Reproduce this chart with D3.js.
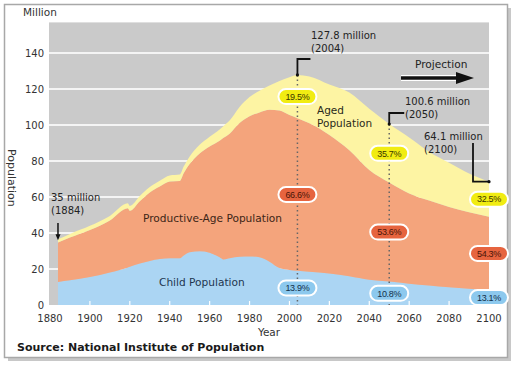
<!DOCTYPE html>
<html>
<head>
<meta charset="utf-8">
<script src="https://cdn.jsdelivr.net/npm/d3@7"></script>
<style>
  body { margin: 0; background: #fff; }
  text { font-family: "DejaVu Sans", sans-serif; }
</style>
</head>
<body>
<svg></svg>
<script>
let width = 520, height = 373;

let svg = d3.select("svg")
    .attr("width", width)
    .attr("height", height);

// Population of Japan (million)
let years      = [1884, 1890, 1900, 1910, 1919, 1920, 1925, 1930, 1935, 1940, 1945, 1947, 1950, 1955, 1960, 1965, 1967, 1970, 1975, 1980, 1985, 1990, 1995, 2000, 2004, 2010, 2020, 2030, 2040, 2050, 2060, 2070, 2080, 2090, 2100];
let child      = [12.8, 13.7, 15.5, 18.0, 20.8, 21.2, 23.0, 24.5, 25.5, 26.0, 26.0, 27.5, 29.3, 29.8, 29.0, 26.5, 25.3, 26.0, 26.8, 27.0, 26.5, 24.0, 20.5, 19.5, 19.0, 18.5, 17.5, 16.0, 14.0, 13.0, 11.8, 10.8, 9.8, 9.0, 8.3];
let productive = [21.9, 23.8, 26.2, 29.0, 33.0, 31.1, 34.6, 38.0, 40.3, 42.6, 42.9, 45.7, 49.0, 54.4, 59.1, 64.8, 67.6, 69.2, 74.3, 77.9, 80.5, 84.5, 87.5, 86.0, 84.8, 82.5, 77.0, 70.0, 61.0, 55.0, 50.2, 47.2, 44.7, 42.5, 40.7];
let aged       = [1.8, 2.0, 2.3, 2.5, 2.7, 2.7, 2.9, 3.0, 3.2, 3.4, 3.6, 3.8, 4.2, 4.8, 5.4, 6.2, 6.6, 7.3, 8.9, 10.6, 12.0, 13.5, 16.5, 21.0, 24.0, 26.0, 28.0, 32.0, 34.0, 32.5, 31.0, 27.0, 24.5, 21.5, 19.5];

// marked years and shares
let markYears = [2004, 2050, 2100];
let markTotal = ["127.8 million", "100.6 million", "64.1 million"];
let agedPct   = ["19.5%", "35.7%", "32.5%"];
let prodPct   = ["66.6%", "53.6%", "54.3%"];
let childPct  = ["13.9%", "10.8%", "13.1%"];

let xTicks = d3.range(1880, 2101, 20);
let yTicks = d3.range(0, 141, 20);

let x = d3.scaleLinear().domain([1880, 2100]).range([50, 489]);
let y = d3.scaleLinear().domain([0, 140]).range([305, 53]);

// frame with shadow
svg.append("rect")
    .attr("x", 8).attr("y", 8).attr("width", 503).attr("height", 353)
    .attr("fill", "#c8c8c8");
svg.append("rect")
    .attr("x", 4.5).attr("y", 4.5).attr("width", 503).attr("height", 353)
    .attr("fill", "#fff").attr("stroke", "#a8a8a8").attr("stroke-width", 1.5);

// gray plot background
svg.append("rect")
    .attr("x", x(1880) - 1).attr("y", y(157))
    .attr("width", x(2100) - x(1880) + 1).attr("height", y(0) - y(157))
    .attr("fill", "#cacaca");

// gridlines
svg.append("g")
    .selectAll("line")
    .data(yTicks.slice(1))
    .enter()
    .append("line")
    .attr("x1", x(1880) - 1).attr("x2", x(2100))
    .attr("y1", d => y(d)).attr("y2", d => y(d))
    .attr("stroke", "#f4f4f4").attr("stroke-width", 2);

// stacked areas
let rows = years.map((yr, i) => ({ year: yr, child: child[i], productive: productive[i], aged: aged[i] }));
let stack = d3.stack().keys(["child", "productive", "aged"]);
let series = stack(rows);
let colors = { child: "#abd5f3", productive: "#f4a47c", aged: "#fdf4a3" };

let area = d3.area()
    .x(d => x(d.data.year))
    .y0(d => y(d[0]))
    .y1(d => y(d[1]))
    .curve(d3.curveMonotoneX);

svg.append("g")
    .selectAll("path")
    .data(series)
    .enter()
    .append("path")
    .attr("d", area)
    .attr("fill", d => colors[d.key]);

// little white ticks at the bottom
svg.append("g")
    .selectAll("line")
    .data(xTicks.slice(1))
    .enter()
    .append("line")
    .attr("x1", d => x(d)).attr("x2", d => x(d))
    .attr("y1", y(0) - 4).attr("y2", y(0))
    .attr("stroke", "#fff").attr("stroke-width", 1.2);

// axes labels
svg.append("g")
    .selectAll("text")
    .data(yTicks)
    .enter()
    .append("text")
    .attr("x", 44)
    .attr("y", d => y(d) + 4)
    .attr("text-anchor", "end")
    .style("font-size", "10px")
    .attr("fill", "#333")
    .text(d => d);

svg.append("g")
    .selectAll("text")
    .data(xTicks)
    .enter()
    .append("text")
    .attr("x", d => x(d))
    .attr("y", 322)
    .attr("text-anchor", "middle")
    .style("font-size", "10px")
    .attr("fill", "#333")
    .text(d => d);

svg.append("text").attr("x", 23).attr("y", 16)
    .style("font-size", "10.5px").attr("fill", "#333").text("Million");
svg.append("text")
    .attr("transform", "translate(8,149) rotate(90)")
    .style("font-size", "11px").attr("fill", "#333").text("Population");
svg.append("text").attr("x", 269).attr("y", 336).attr("text-anchor", "middle")
    .style("font-size", "10.5px").attr("fill", "#333").text("Year");
svg.append("text").attr("x", 17).attr("y", 351)
    .style("font-size", "11px").style("font-weight", "bold").attr("fill", "#1a1a1a")
    .text("Source: National Institute of Population");

// dotted guides
let total = i => child[i] + productive[i] + aged[i];
[0, 1].forEach(k => {
    let i = years.indexOf(markYears[k]);
    svg.append("line")
        .attr("x1", x(markYears[k])).attr("x2", x(markYears[k]))
        .attr("y1", y(total(i))).attr("y2", y(0))
        .attr("stroke", "#666").attr("stroke-width", 1.5)
        .attr("stroke-dasharray", "1.5,3");
});

// leader lines
let leader = svg.append("g").attr("fill", "none").attr("stroke", "#111").attr("stroke-width", 1.8);
let i04 = years.indexOf(2004), i50 = years.indexOf(2050), i00 = years.indexOf(2100);
leader.append("path").attr("d", "M" + (x(2004) + 13) + "," + 59 + "H" + x(2004) + "V" + y(total(i04)));
leader.append("path").attr("d", "M" + (x(2050) + 15) + "," + 113 + "H" + x(2050) + "V" + y(total(i50)));
leader.append("path").attr("d", "M" + 473 + "," + 143 + "V" + y(total(i00)) + "H" + x(2100));
svg.append("circle").attr("cx", x(2004)).attr("cy", y(total(i04))).attr("r", 1.6).attr("fill", "#111");
svg.append("circle").attr("cx", x(2050)).attr("cy", y(total(i50))).attr("r", 1.6).attr("fill", "#111");
svg.append("circle").attr("cx", x(2100)).attr("cy", y(total(i00))).attr("r", 1.6).attr("fill", "#111");

// 1884 arrow
let i84 = 0;
svg.append("line")
    .attr("x1", x(1884)).attr("x2", x(1884))
    .attr("y1", 223).attr("y2", y(total(i84)) - 4)
    .attr("stroke", "#111").attr("stroke-width", 1.5);
svg.append("path")
    .attr("d", "M" + (x(1884) - 2.5) + "," + (y(total(i84)) - 5) + "L" + (x(1884) + 2.5) + "," + (y(total(i84)) - 5) + "L" + x(1884) + "," + (y(total(i84)) + 1) + "Z")
    .attr("fill", "#111");

// annotation text
function label(tx, ty, lines, size, color) {
    let t = svg.append("text").attr("x", tx).attr("y", ty)
        .style("font-size", size + "px").attr("fill", color || "#222");
    lines.forEach((s, j) => {
        t.append("tspan").attr("x", tx).attr("dy", j == 0 ? 0 : size * 1.25).text(s);
    });
}
label(51, 201, ["35 million", "(1884)"], 10);
label(311, 39, [markTotal[0], "(" + markYears[0] + ")"], 10);
label(405, 105, [markTotal[1], "(" + markYears[1] + ")"], 10);
label(424, 140, [markTotal[2], "(" + markYears[2] + ")"], 10);
label(317, 114, ["Aged", "Population"], 10.5, "#2a2a1a");
label(143, 222, ["Productive-Age Population"], 10.6, "#3d2416");
label(159, 286, ["Child Population"], 10.6, "#1e3550");

// projection arrow
svg.append("text").attr("x", 415).attr("y", 68)
    .style("font-size", "10.6px").attr("fill", "#222").text("Projection");
svg.append("line").attr("x1", 401).attr("x2", 460).attr("y1", 78).attr("y2", 78)
    .attr("stroke", "#fff").attr("stroke-width", 6);
svg.append("line").attr("x1", 401).attr("x2", 460).attr("y1", 78).attr("y2", 78)
    .attr("stroke", "#111").attr("stroke-width", 3.5);
svg.append("path").attr("d", "M456,72L474,78L456,84Z").attr("fill", "#111");

// percentage pills
let pillColors = { aged: "#f1ec12", productive: "#e6643f", child: "#8dc9ee" };
let pillText = { aged: "#3a3500", productive: "#4a1508", child: "#12304a" };
let pcts = { aged: agedPct, productive: prodPct, child: childPct };
series.forEach(s => {
    markYears.forEach((yr, k) => {
        let d = s[years.indexOf(yr)];
        let cx = x(yr), cy = y((d[0] + d[1]) / 2);
        svg.append("rect")
            .attr("x", cx - 19).attr("y", cy - 7.5)
            .attr("width", 38).attr("height", 15)
            .attr("rx", 7.5)
            .attr("fill", pillColors[s.key])
            .attr("stroke", "#fff").attr("stroke-width", 2);
        svg.append("text")
            .attr("x", cx).attr("y", cy + 3.2)
            .attr("text-anchor", "middle")
            .style("font-family", "Liberation Sans")
            .style("font-size", "9px")
            .style("letter-spacing", "-0.3px")
            .attr("fill", pillText[s.key])
            .text(pcts[s.key][k]);
    });
});
</script>
</body>
</html>
